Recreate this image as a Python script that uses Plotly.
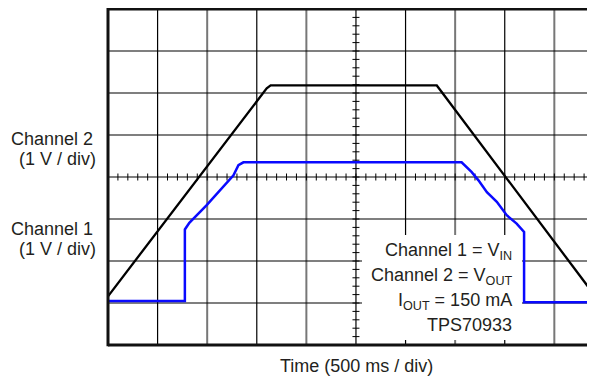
import plotly.graph_objects as go

# ---- data (oscilloscope divisions: x = time div, y = voltage div) ----
vin_x = [0.00, 3.20, 3.28, 6.63, 9.82]
vin_y = [1.16, 6.11, 6.18, 6.18, 1.17]

vout_x = [0.00, 1.55, 1.55, 1.64, 1.99, 2.39, 2.53, 2.63, 2.73, 7.13, 7.33, 7.47,
          7.64, 7.84, 8.04, 8.24, 8.39, 8.39, 9.82]
vout_y = [1.05, 1.05, 2.75, 2.91, 3.33, 3.85, 4.04, 4.28, 4.35, 4.35, 4.12, 3.92,
          3.64, 3.41, 3.09, 2.89, 2.69, 1.02, 1.02]

x_divs = 10
y_divs = 8
x_visible = 9.82
gray_cols = [2, 4, 7, 9]

left_labels = [("Channel 2", 52, 139), ("(1 V / div)", 57, 159),
               ("Channel 1", 52, 229), ("(1 V / div)", 57, 249)]
box_lines = [("Channel 1 = V<sub>IN</sub>", 251),
             ("Channel 2 = V<sub>OUT</sub>", 276),
             ("I<sub>OUT</sub> = 150 mA", 301),
             ("TPS70933", 325)]
x_title = "Time (500 ms / div)"

OFF = 8                      # page body margin of the html output
W, H = 595 - OFF, 378 - OFF
L, T, B = 108 - OFF, 9 - OFF, 33
PW, PH = W - L, H - T - B
FONT = "Arial, Liberation Sans, sans-serif"
TXT = "#231f20"


def px2paper(px, py):
    """window pixel -> paper coords"""
    return (px - OFF - L) / PW, (H - B - (py - OFF)) / PH


fig = go.Figure()
fig.add_trace(go.Scatter(x=vin_x, y=vin_y, mode="lines",
                         line=dict(color="#000000", width=2.3), hoverinfo="skip"))
fig.add_trace(go.Scatter(x=vout_x, y=vout_y, mode="lines",
                         line=dict(color="#0a0aff", width=2.5), hoverinfo="skip"))

shapes = []
# grid
for k in range(1, x_divs):
    g = k in gray_cols
    shapes.append(dict(type="line", xref="x", yref="paper", x0=k, x1=k, y0=0, y1=1,
                       line=dict(color="#777777" if g else "#000000", width=2 if g else 1.2),
                       layer="below"))
for k in range(1, y_divs):
    shapes.append(dict(type="line", xref="paper", yref="y", x0=0, x1=1, y0=k, y1=k,
                       line=dict(color="#000000", width=1.2), layer="below"))
# center-line minor ticks
for i in range(1, x_divs * 5):
    xv = i / 5
    if xv > x_visible:
        break
    shapes.append(dict(type="line", xref="x", yref="y", x0=xv, x1=xv,
                       ysizemode="pixel", yanchor=y_divs / 2, y0=-3.5, y1=3.5,
                       line=dict(color="#000", width=1), layer="below"))
for i in range(1, y_divs * 5):
    yv = i / 5
    shapes.append(dict(type="line", xref="x", yref="y", y0=yv, y1=yv,
                       xsizemode="pixel", xanchor=x_divs / 2, x0=-3.5, x1=3.5,
                       line=dict(color="#000", width=1), layer="below"))
# white box behind the note text
bx0, by0 = px2paper(362, 340)
bx1, by1 = px2paper(522, 235)
shapes.append(dict(type="rect", xref="paper", yref="paper",
                   x0=bx0, x1=bx1, y0=by0, y1=by1,
                   fillcolor="white", line=dict(width=0), layer="below"))
# frame
fr = dict(color="#111111", width=3)
shapes.append(dict(type="line", xref="paper", yref="paper", x0=0, x1=0, y0=-0.004, y1=1.004, line=fr, layer="above"))
shapes.append(dict(type="line", xref="paper", yref="paper", x0=0, x1=1, y0=1, y1=1, line=fr, layer="above"))
shapes.append(dict(type="line", xref="paper", yref="paper", x0=0, x1=1, y0=0, y1=0, line=fr, layer="above"))

ann = []
for text, cx, cy in left_labels:
    ax, ay = px2paper(cx, cy)
    ann.append(dict(text=text, x=ax, y=ay, xref="paper", yref="paper",
                    xanchor="center", yanchor="middle", showarrow=False,
                    font=dict(family=FONT, size=18, color=TXT)))
for text, cy in box_lines:
    ax, ay = px2paper(514, cy)
    ann.append(dict(text=text, x=ax, y=ay, xref="paper", yref="paper",
                    xanchor="right", yanchor="middle", showarrow=False,
                    font=dict(family=FONT, size=18, color=TXT)))
ax, ay = px2paper(356.5, 366)
ann.append(dict(text=x_title, x=ax, y=ay, xref="paper", yref="paper",
                xanchor="center", yanchor="middle", showarrow=False,
                font=dict(family=FONT, size=18, color=TXT)))

fig.update_layout(
    width=W, height=H,
    margin=dict(l=L, r=0, t=T, b=B),
    paper_bgcolor="white", plot_bgcolor="white",
    showlegend=False,
    shapes=shapes, annotations=ann,
    xaxis=dict(range=[0, x_visible], showgrid=False, zeroline=False,
               showticklabels=False, ticks="", showline=False, fixedrange=True),
    yaxis=dict(range=[0, y_divs], showgrid=False, zeroline=False,
               showticklabels=False, ticks="", showline=False, fixedrange=True),
)
fig.write_html("out.html")
